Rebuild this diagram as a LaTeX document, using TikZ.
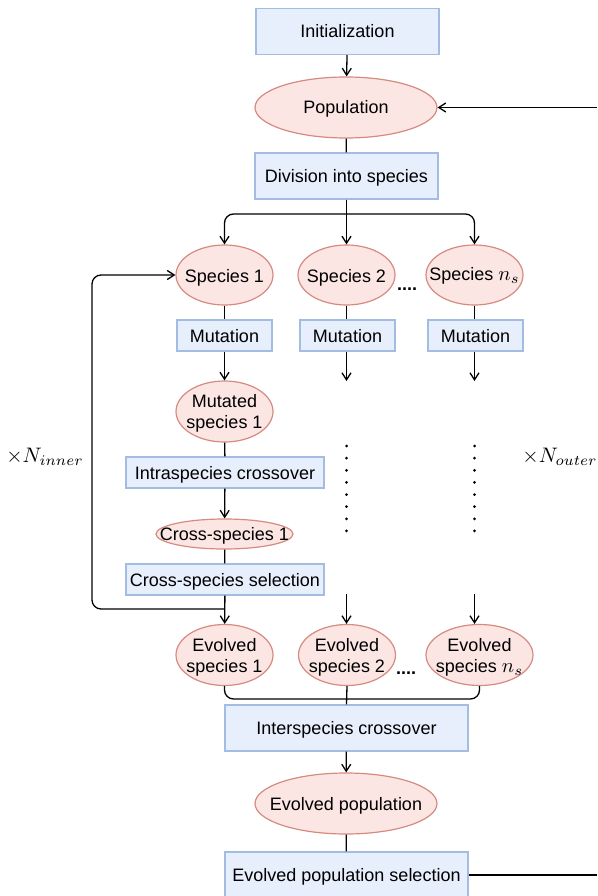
\documentclass[tikz,border=0pt]{standalone}
\usepackage{graphicx}
\usepackage{fontspec}
\setmainfont{Liberation Sans}
\usetikzlibrary{shapes.geometric,arrows.meta}
\definecolor{boxfill}{RGB}{232,239,252}
\definecolor{boxline}{RGB}{162,188,226}
\definecolor{ellfill}{RGB}{251,230,227}
\definecolor{ellline}{RGB}{214,138,128}
\newcommand{\ns}{{\fontsize{10}{12}\selectfont\scalebox{2.05}{$n_s$}}}
\tikzset{
  box/.style={rectangle,draw=boxline,fill=boxfill,line width=1.2pt,inner sep=0pt,
    font=\fontsize{18}{21}\selectfont,text height=13pt,text depth=0pt},
  ell/.style={ellipse,draw=ellline,fill=ellfill,line width=1.2pt,inner sep=0pt},
  etxt/.style={inner sep=0pt,font=\fontsize{18}{21}\selectfont,text height=13pt,text depth=0pt},
  etxtt/.style={inner sep=0pt,font=\fontsize{18}{21}\selectfont,align=center,text height=34pt,text depth=0pt},
  conn/.style={line width=1.3pt,black},
  arr/.style={conn,-{Straight Barb[length=7pt,width=9pt,line width=1.3pt]}},
  rc/.style={rounded corners=9pt},
  lbl/.style={inner sep=0pt,font=\fontsize{10}{12}\selectfont},
  dotsl/.style={inner sep=0pt,font=\fontsize{18}{21}\selectfont\bfseries},
}
\begin{document}
\begin{tikzpicture}[x=1pt,y=-1pt]
\useasboundingbox (0,0) rectangle (597,896);
% nodes
\node[box,minimum width=183pt,minimum height=46pt] (init) at (347.5,31.5) {Initialization};
\node[ell,minimum width=182pt,minimum height=61pt] (pop) at (346,107.5) {};
\node[etxt] (popt) at (pop.center) {Population};
\node[box,minimum width=183pt,minimum height=46pt] (div) at (346.5,176) {Division into species};
\node[ell,minimum width=97pt,minimum height=60pt] (s1) at (224.5,275) {};
\node[etxt] (s1t) at (224.5,275.5) {Species 1};
\node[ell,minimum width=97pt,minimum height=60pt] (s2) at (346.5,275) {};
\node[etxt] (s2t) at (346.5,275.5) {Species 2};
\node[ell,minimum width=97pt,minimum height=60pt] (sn) at (474.5,275) {};
\node[etxt] (snt) at (474.5,274) {Species \ns};
\node[dotsl] (dtop) at (407,289) {....};
\node[box,minimum width=95pt,minimum height=31pt] (m1) at (224.5,335.5) {Mutation};
\node[box,minimum width=95pt,minimum height=31pt] (m2) at (347.5,335.5) {Mutation};
\node[box,minimum width=95pt,minimum height=31pt] (m3) at (475.5,335.5) {Mutation};
\node[ell,minimum width=97pt,minimum height=61pt] (ms1) at (224.5,411.5) {};
\node[etxtt] (ms1t) at (ms1.center) {Mutated\\species 1};
\node[box,minimum width=198pt,minimum height=31pt] (intra) at (225,472.5) {Intraspecies crossover};
\node[ell,minimum width=137pt,minimum height=30pt] (cs1) at (224.5,534) {};
\node[etxt] (cs1t) at (cs1.center) {Cross-species 1};
\node[box,minimum width=198pt,minimum height=31pt] (csel) at (225,579.5) {Cross-species selection};
\node[ell,minimum width=97pt,minimum height=61pt] (es1) at (224.5,655) {};
\node[etxtt] (es1t) at (es1.center) {Evolved\\species 1};
\node[ell,minimum width=97pt,minimum height=61pt] (es2) at (347,655) {};
\node[etxtt] (es2t) at (es2.center) {Evolved\\species 2};
\node[ell,minimum width=107pt,minimum height=61pt] (esn) at (479.5,655) {};
\node[etxtt] (esnt) at (esn.center) {Evolved\\species \ns};
\node[dotsl] (dbot) at (406,673) {....};
\node[box,minimum width=243pt,minimum height=46pt] (inter) at (346.5,728) {Interspecies crossover};
\node[ell,minimum width=182pt,minimum height=61pt] (epop) at (346,803.5) {};
\node[etxt] (epopt) at (epop.center) {Evolved population};
\node[box,minimum width=243pt,minimum height=46pt] (esel) at (346.5,875) {Evolved population selection};
\node[lbl] (ninner) at (45,457) {\scalebox{2.1}{$\times N_{inner}$}};
\node[lbl] (nouter) at (560,457) {\scalebox{2.1}{$\times N_{outer}$}};
% coordinates
\coordinate (jt) at (346.5,214);
\coordinate (e2) at (346.5,381);
\coordinate (e3) at (474.5,381);
\coordinate (b2) at (346.5,594);
\coordinate (b3) at (474.5,594);
\coordinate (fb) at (224.5,609);
\coordinate (fbl) at (92,609);
\coordinate (fbt) at (92,275);
\coordinate (jb) at (346.5,699);
\coordinate (rtop) at (597,107.5);
\coordinate (rbot) at (597,875);
% connectors
\draw[arr] (init) -- (pop);
\draw[conn] (pop) -- (div);
\draw[arr] (div) -- (s2);
\draw[conn] (div.south) -- (jt);
\draw[arr,rc] (jt) -| (s1.north);
\draw[arr,rc] (jt) -| (sn.north);
\draw[conn] (s1) -- (m1);
\draw[conn] (s2) -- (s2 |- m2.north);
\draw[conn] (sn) -- (sn |- m3.north);
\draw[arr] (m1) -- (ms1);
\draw[arr] (e2 |- m2.south) -- (e2);
\draw[arr] (e3 |- m3.south) -- (e3);
\draw[conn] (ms1) -- (intra);
\draw[arr] (intra) -- (cs1);
\draw[conn] (cs1) -- (csel);
\draw[arr] (csel) -- (es1);
\draw[arr,rc] (fb) -- (fbl) -- (fbt) -- (s1.west);
\foreach \k in {0,...,7} {
  \fill (346.5,446+12.14*\k) circle (1.5pt);
  \fill (474.5,446+12.14*\k) circle (1.5pt);
}
\draw[arr] (b2) -- (b2 |- es2.north);
\draw[arr] (b3) -- (b3 |- esn.north);
\draw[conn,rc] (es1.south) |- (jb);
\draw[conn,rc] (esn.south) |- (jb);
\draw[conn] (es2.south) -- (inter.north);
\draw[arr] (inter) -- (epop);
\draw[conn] (epop) -- (esel);
\draw[conn] (esel.east) -- (esel.east -| rbot);
\draw[arr] (rtop) -- (pop.east);
\end{tikzpicture}
\end{document}
